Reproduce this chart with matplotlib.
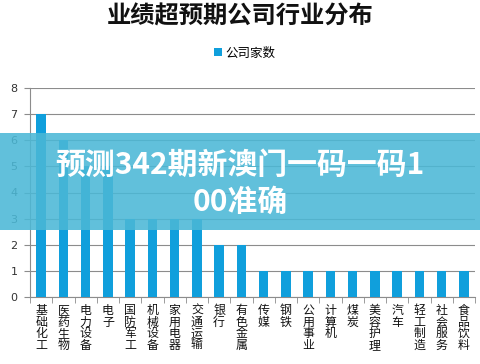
import matplotlib
matplotlib.use("Agg")
import matplotlib.pyplot as plt
import numpy as np

plt.rcParams['font.family'] = ['Noto Sans CJK SC', 'DejaVu Sans']

title = "业绩超预期公司行业分布"
series_name = "公司家数"
categories = ["基础化工", "医药生物", "电力设备", "电子", "国防军工", "机械设备", "家用电器",
              "交通运输", "银行", "有色金属", "传媒", "钢铁", "公用事业", "计算机", "煤炭",
              "美容护理", "汽车", "轻工制造", "社会服务", "食品饮料"]
values = [7, 6, 5, 5, 3, 3, 3, 3, 2, 2, 1, 1, 1, 1, 1, 1, 1, 1, 1, 1]
yticks = [0, 1, 2, 3, 4, 5, 6, 7, 8]
banner_text = "预测342期新澳门一码一码1\n00准确"

bar_color = "#109fdc"
fig = plt.figure(figsize=(4.8, 3.64), dpi=100)
ax = fig.add_axes([30/480, 1-297/364, 445/480, (297-88)/364])
x = np.arange(len(categories))
ax.bar(x, values, width=0.42, color=bar_color, zorder=3, label=series_name)
ax.set_xlim(-0.5, len(categories)-0.5)
ax.set_ylim(0, 8)
ax.set_yticks(yticks)
ax.set_yticklabels([str(t) for t in yticks], fontsize=8, color="#333333", family=['DejaVu Sans'])
ax.grid(axis='y', color="#8c8c8c", linewidth=0.8, zorder=0)
for s in ['top', 'right']:
    ax.spines[s].set_visible(False)
for s in ['left', 'bottom']:
    ax.spines[s].set_color("#8c8c8c")
ax.tick_params(axis='y', length=4, color="#8c8c8c", pad=5)
ax.set_xticks(x)
ax.set_xticklabels(["\n".join(c) for c in categories], fontsize=8.6, linespacing=0.87,
                   va='top', color="#111111")
ax.tick_params(axis='x', length=0, pad=5)
ax.set_xticks(np.arange(-0.5, len(categories), 1), minor=True)
ax.tick_params(axis='x', which='minor', length=4, color="#8c8c8c", direction='out')

fig.text(0.5, 1-17/364, title, ha='center', va='center', fontsize=17.5, fontweight='bold', color="#111111")
fig.legend(loc='center', bbox_to_anchor=(0.51, 1-53/364), frameon=False, fontsize=9,
           handlelength=0.6, handleheight=0.6, handletextpad=0.3)

# overlay banner
fig.patches.append(plt.Rectangle((0, 1-230/364), 1, 97/364, transform=fig.transFigure,
                                 facecolor="#4bb8d6", alpha=0.88, zorder=10))
fig.text(0.5, 1-183/364, banner_text, ha='center', va='center', fontsize=21.5,
         fontweight='bold', color='white', linespacing=1.3, zorder=11)

fig.savefig("out.png", dpi=100)
